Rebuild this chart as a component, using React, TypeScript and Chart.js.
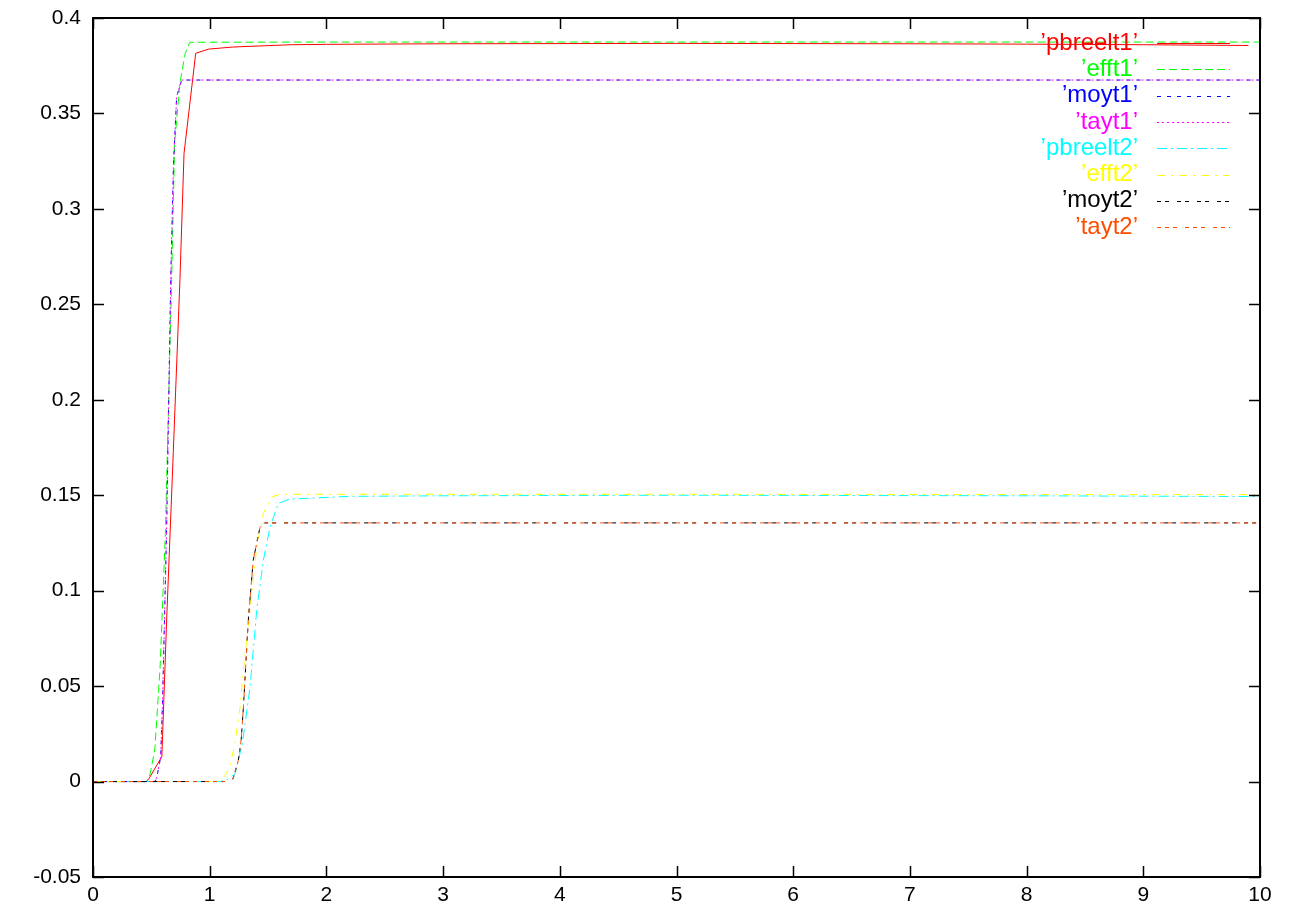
import React, { useEffect, useRef } from "react";
import { Chart, registerables } from "chart.js";

Chart.register(...registerables);

// ---- data ----
const SERIES_LABELS = ["’pbreelt1’", "’efft1’", "’moyt1’", "’tayt1’", "’pbreelt2’", "’efft2’", "’moyt2’", "’tayt2’"];

const PBREELT1_X = [0, 0.46, 0.48, 0.59, 0.63, 0.68, 0.745, 0.78, 0.88, 0.99, 1.2, 1.7, 2, 3, 4, 5, 6, 7, 8, 9, 9.9];
const PBREELT1_Y = [0, 0, 0.0016, 0.013, 0.083, 0.16, 0.263, 0.329, 0.3815, 0.3837, 0.3848, 0.386, 0.3862, 0.3865, 0.3866, 0.3867, 0.3866, 0.3865, 0.3863, 0.386, 0.3856];

const EFFT1_X = [0, 0.46, 0.49, 0.53, 0.575, 0.62, 0.674, 0.7, 0.745, 0.79, 0.83, 2, 5, 10];
const EFFT1_Y = [0, 0, 0.004, 0.017, 0.06, 0.13, 0.263, 0.335, 0.366, 0.3815, 0.3873, 0.3874, 0.3874, 0.3874];

const MOYT1_X = [0, 0.53, 0.546, 0.58, 0.597, 0.631, 0.666, 0.69, 0.717, 0.76, 2, 5, 10];
const MOYT1_Y = [0, 0, 0.002, 0.0128, 0.044, 0.133, 0.263, 0.324, 0.359, 0.3675, 0.3675, 0.3675, 0.3675];

const TAYT1_X = [0, 0.53, 0.546, 0.58, 0.597, 0.631, 0.666, 0.69, 0.717, 0.76, 2, 5, 10];
const TAYT1_Y = [0, 0, 0.002, 0.0128, 0.044, 0.133, 0.263, 0.324, 0.359, 0.3675, 0.3675, 0.3675, 0.3675];

const PBREELT2_X = [0, 1.09, 1.15, 1.217, 1.28, 1.345, 1.403, 1.46, 1.517, 1.588, 1.688, 2.2, 3, 5, 8, 10];
const PBREELT2_Y = [0, 0, 0.001, 0.004, 0.02, 0.049, 0.0897, 0.116, 0.1333, 0.1457, 0.148, 0.1494, 0.1497, 0.15, 0.1497, 0.1493];

const EFFT2_X = [0, 1.06, 1.13, 1.17, 1.217, 1.26, 1.288, 1.345, 1.403, 1.46, 1.53, 1.6, 5, 10];
const EFFT2_Y = [0, 0, 0.003, 0.0075, 0.02, 0.039, 0.058, 0.0897, 0.123, 0.1405, 0.149, 0.1505, 0.1505, 0.1503];

const MOYT2_X = [0, 1.15, 1.2, 1.245, 1.27, 1.29, 1.33, 1.373, 1.43, 1.47, 5, 10];
const MOYT2_Y = [0, 0, 0.0015, 0.011, 0.022, 0.04, 0.084, 0.116, 0.133, 0.1355, 0.1355, 0.1355];

const TAYT2_X = [0, 1.15, 1.2, 1.245, 1.27, 1.29, 1.33, 1.373, 1.43, 1.47, 5, 10];
const TAYT2_Y = [0, 0, 0.0015, 0.011, 0.022, 0.04, 0.084, 0.116, 0.133, 0.1355, 0.1355, 0.1355];

const X_TICKS = [0, 1, 2, 3, 4, 5, 6, 7, 8, 9, 10];
const Y_TICKS = [-0.05, 0, 0.05, 0.1, 0.15, 0.2, 0.25, 0.3, 0.35, 0.4];

// ---- styles ----
const COLORS = ["#ff0000", "#00ff00", "#0000ff", "#ff00ff", "#00ffff", "#ffff00", "#000000", "#ff4d00"];
const DASHES: number[][] = [
  [],
  [8, 4],
  [4, 6],
  [2, 3],
  [10, 4, 2, 4],
  [8, 6, 2, 6],
  [4, 4, 4, 8],
  [4, 4, 4, 4, 4, 8],
];

const SERIES_X = [PBREELT1_X, EFFT1_X, MOYT1_X, TAYT1_X, PBREELT2_X, EFFT2_X, MOYT2_X, TAYT2_X];
const SERIES_Y = [PBREELT1_Y, EFFT1_Y, MOYT1_Y, TAYT1_Y, PBREELT2_Y, EFFT2_Y, MOYT2_Y, TAYT2_Y];

const FONT = "'Liberation Sans', Arial, Helvetica, sans-serif";

const framePlugin = {
  id: "gnuplotFrame",
  afterDraw(chart: any) {
    const { ctx, chartArea } = chart;
    const { left, right, top, bottom } = chartArea;
    const xs = chart.scales.x;
    const ys = chart.scales.y;
    const tl = 11;
    ctx.save();
    ctx.strokeStyle = "#000";
    ctx.lineWidth = 1.5;
    ctx.setLineDash([]);
    ctx.beginPath();
    for (const v of Y_TICKS) {
      const py = Math.round(ys.getPixelForValue(v)) + 0.5;
      ctx.moveTo(left, py);
      ctx.lineTo(left + tl, py);
      ctx.moveTo(right, py);
      ctx.lineTo(right - tl, py);
    }
    for (const v of X_TICKS) {
      const px = Math.round(xs.getPixelForValue(v)) + 0.5;
      ctx.moveTo(px, bottom);
      ctx.lineTo(px, bottom - tl);
      ctx.moveTo(px, top);
      ctx.lineTo(px, top + tl);
    }
    ctx.stroke();
    ctx.lineWidth = 2;
    ctx.strokeRect(left, top, right - left, bottom - top);

    // legend (gnuplot style: right-aligned text, sample line at the right)
    ctx.font = `24px ${FONT}`;
    ctx.textAlign = "right";
    ctx.textBaseline = "middle";
    chart.data.datasets.forEach((ds: any, i: number) => {
      const y = top + 25 + i * 26.3;
      ctx.fillStyle = ds.borderColor;
      ctx.fillText(ds.label, right - 122, y);
      ctx.strokeStyle = ds.borderColor;
      ctx.lineWidth = 1;
      ctx.setLineDash(ds.borderDash || []);
      ctx.beginPath();
      ctx.moveTo(right - 103, Math.round(y) + 0.5);
      ctx.lineTo(right - 30, Math.round(y) + 0.5);
      ctx.stroke();
    });
    ctx.restore();
  },
};

export default function App() {
  const canvasRef = useRef<HTMLCanvasElement | null>(null);

  useEffect(() => {
    if (!canvasRef.current) return;
    const datasets = SERIES_LABELS.map((label, i) => ({
      label,
      data: SERIES_X[i].map((x, j) => ({ x, y: SERIES_Y[i][j] })),
      borderColor: COLORS[i],
      backgroundColor: COLORS[i],
      borderWidth: 1,
      borderDash: DASHES[i],
      pointRadius: 0,
      tension: 0,
      fill: false,
      order: SERIES_LABELS.length - i,
    }));

    const chart = new Chart(canvasRef.current, {
      type: "line",
      data: { datasets },
      options: {
        animation: false,
        responsive: false,
        maintainAspectRatio: false,
        layout: { padding: { top: 18, right: 39, left: 0, bottom: 0 } },
        plugins: {
          legend: { display: false },
          tooltip: { enabled: false },
        },
        scales: {
          x: {
            type: "linear",
            min: 0,
            max: 10,
            grid: { display: false, drawTicks: false },
            border: { display: false },
            ticks: {
              stepSize: 1,
              padding: 6,
              color: "#000",
              font: { family: FONT, size: 21 },
              maxRotation: 0,
              callback: (v: any) => String(Number(Number(v).toFixed(2))),
            },
            afterFit: (s: any) => {
              s.height = 38;
              s.paddingLeft = 0;
              s.paddingRight = 0;
            },
          },
          y: {
            type: "linear",
            min: -0.05,
            max: 0.4,
            grid: { display: false, drawTicks: false },
            border: { display: false },
            ticks: {
              stepSize: 0.05,
              padding: 12,
              color: "#000",
              font: { family: FONT, size: 21 },
              callback: (v: any) => String(Number(Number(v).toFixed(2))),
            },
            afterFit: (s: any) => {
              s.width = 93;
              s.paddingTop = 0;
              s.paddingBottom = 0;
            },
          },
        },
      },
      plugins: [framePlugin],
    });
    return () => chart.destroy();
  }, []);

  return (
    <div style={{ position: "fixed", left: 0, top: 0, width: 1299, height: 915, background: "#fff" }}>
      <canvas ref={canvasRef} width={1299} height={915} style={{ display: "block" }} />
    </div>
  );
}
